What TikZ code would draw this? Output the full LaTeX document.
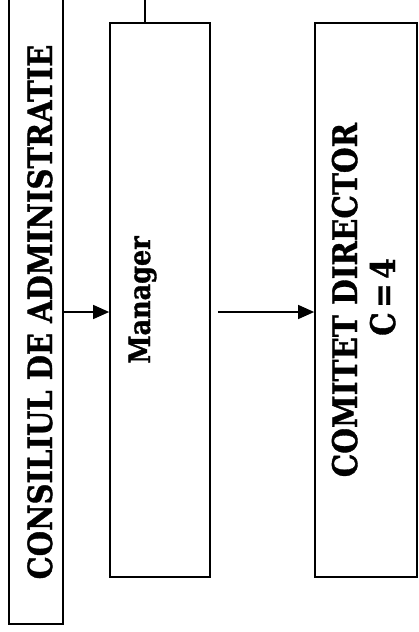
\documentclass[tikz,border=0pt]{standalone}
\usepackage{fontspec}
\setmainfont{DejaVu Serif}[BoldFeatures={FakeBold=1.2}]
\usetikzlibrary{arrows.meta}
\newcommand{\tallt}[1]{\scalebox{1}[1.15]{#1}}
\begin{document}
\begin{tikzpicture}[x=1pt,y=-1pt,
  box/.style={draw,line width=1.7pt,inner sep=0pt,rectangle},
  lbl/.style={rotate=90,inner sep=0pt,anchor=base,font=\bfseries\fontsize{29.5}{32}\selectfont},
  arr/.style={line width=1.3pt,-{Triangle[length=16pt,width=14pt]}},
  ln/.style={line width=1.3pt}]
\useasboundingbox (0,0) rectangle (419,632);
\clip (0,0) rectangle (419,632);
\node[box,minimum width=54pt,minimum height=644pt] (cons) at (36,302) {};
\node[box,minimum width=100pt,minimum height=554pt] (mgr) at (160,300) {};
\node[box,minimum width=102pt,minimum height=554pt] (com) at (366,300) {};
\node[lbl,font=\bfseries\fontsize{29}{32}\selectfont] (tcons) at (52,312) {\tallt{CONSILIUL DE ADMINISTRATIE}};
\node[lbl,font=\bfseries\fontsize{25.5}{28}\selectfont] (tmgr) at (150,300) {\tallt{Manager}};
\node[lbl] (tcom) at (357,300) {\tallt{COMITET DIRECTOR}};
\node[lbl] (tc) at (395,297) {\tallt{\spaceskip=0.15em C = 4}};
\coordinate (topend) at (145,-5);
\draw[ln] (mgr.north -| topend) -- (topend);
\draw[arr] (cons.east |- 0,312) -- (mgr.west |- 0,312);
\draw[arr,shorten <=7pt] (mgr.east |- 0,312) -- (com.west |- 0,312);
\end{tikzpicture}
\end{document}
